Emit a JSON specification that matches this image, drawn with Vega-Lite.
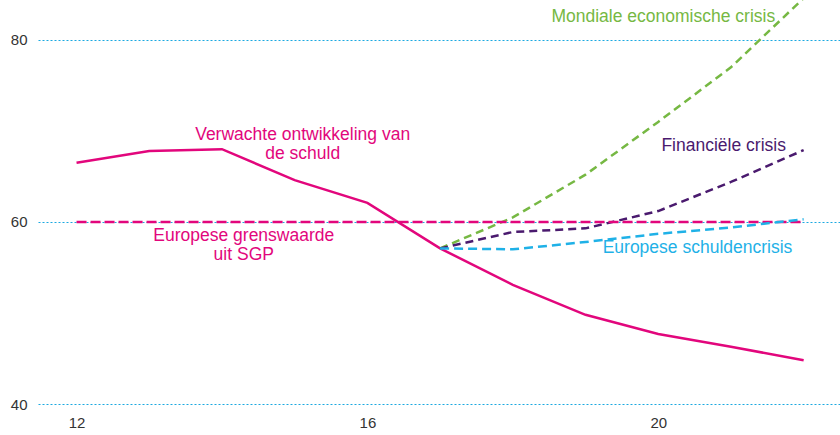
{
  "$schema": "https://vega.github.io/schema/vega-lite/v6.json",
  "autosize": "none",
  "width": 802,
  "height": 404,
  "padding": {"left": 38, "top": 0, "right": 0, "bottom": 31},
  "background": "white",
  "config": {"view": {"stroke": null}, "font": "Liberation Sans"},
  "datasets": {
    "lines": [
      {"series": "Verwacht", "year": 12, "value": 66.5},
      {"series": "Verwacht", "year": 13, "value": 67.8},
      {"series": "Verwacht", "year": 14, "value": 68.0},
      {"series": "Verwacht", "year": 15, "value": 64.6},
      {"series": "Verwacht", "year": 16, "value": 62.1},
      {"series": "Verwacht", "year": 17, "value": 57.1},
      {"series": "Verwacht", "year": 18, "value": 53.1},
      {"series": "Verwacht", "year": 19, "value": 49.8},
      {"series": "Verwacht", "year": 20, "value": 47.7},
      {"series": "Verwacht", "year": 21, "value": 46.3},
      {"series": "Verwacht", "year": 22, "value": 44.8},
      {"series": "Mondiaal", "year": 17, "value": 57.1},
      {"series": "Mondiaal", "year": 18, "value": 60.5},
      {"series": "Mondiaal", "year": 19, "value": 65.2},
      {"series": "Mondiaal", "year": 20, "value": 71.0},
      {"series": "Mondiaal", "year": 21, "value": 77.0},
      {"series": "Mondiaal", "year": 22, "value": 84.6},
      {"series": "Financieel", "year": 17, "value": 57.1},
      {"series": "Financieel", "year": 18, "value": 58.9},
      {"series": "Financieel", "year": 19, "value": 59.3},
      {"series": "Financieel", "year": 20, "value": 61.2},
      {"series": "Financieel", "year": 21, "value": 64.4},
      {"series": "Financieel", "year": 22, "value": 67.9},
      {"series": "Schuldencrisis", "year": 17, "value": 57.1},
      {"series": "Schuldencrisis", "year": 18, "value": 57.0},
      {"series": "Schuldencrisis", "year": 19, "value": 57.8},
      {"series": "Schuldencrisis", "year": 20, "value": 58.7},
      {"series": "Schuldencrisis", "year": 21, "value": 59.4},
      {"series": "Schuldencrisis", "year": 22, "value": 60.3},
      {"series": "SGP", "year": 12, "value": 60},
      {"series": "SGP", "year": 22, "value": 60}
    ],
    "labels": [
      {"series": "Verwacht", "text": "Verwachte ontwikkeling van", "year": 15.11, "value": 69.6},
      {"series": "Verwacht", "text": "de schuld", "year": 15.11, "value": 67.5},
      {"series": "SGP", "text": "Europese grenswaarde", "year": 14.3, "value": 58.45},
      {"series": "SGP", "text": "uit SGP", "year": 14.3, "value": 56.35},
      {"series": "Mondiaal", "text": "Mondiale economische crisis", "year": 20.07, "value": 82.5},
      {"series": "Financieel", "text": "Financiële crisis", "year": 20.9, "value": 68.4},
      {"series": "Schuldencrisis", "text": "Europese schuldencrisis", "year": 20.54, "value": 57.1}
    ]
  },
  "encoding": {
    "x": {
      "field": "year", "type": "quantitative",
      "scale": {"domain": [11.47, 22.5], "nice": false, "zero": false},
      "axis": {"values": [12, 16, 20], "title": null, "domain": false, "ticks": false, "grid": false,
               "labelFontSize": 15, "labelColor": "#333333", "labelPadding": 11, "labelFont": "Liberation Sans"}
    },
    "y": {
      "field": "value", "type": "quantitative",
      "scale": {"domain": [40, 84.3956], "nice": false, "zero": false},
      "axis": {"values": [40, 60, 80], "title": null, "domain": false, "ticks": false,
               "grid": true, "gridColor": "#1ba9e1", "gridDash": [2, 2], "gridWidth": 1.2,
               "labelFontSize": 15, "labelColor": "#333333", "labelPadding": 11, "labelFont": "Liberation Sans"}
    },
    "color": {
      "field": "series", "type": "nominal", "legend": null,
      "scale": {
        "domain": ["Verwacht", "SGP", "Mondiaal", "Financieel", "Schuldencrisis"],
        "range": ["#e2067c", "#e2067c", "#76b843", "#4a1a6e", "#1fb1e7"]
      }
    }
  },
  "layer": [
    {
      "data": {"name": "lines"},
      "transform": [{"filter": "datum.series === 'Verwacht'"}],
      "mark": {"type": "line", "strokeWidth": 2.5, "clip": true}
    },
    {
      "data": {"name": "lines"},
      "transform": [{"filter": "datum.series === 'Mondiaal'"}],
      "mark": {"type": "line", "strokeWidth": 2.5, "strokeDash": [8, 5], "clip": true}
    },
    {
      "data": {"name": "lines"},
      "transform": [{"filter": "datum.series === 'Financieel'"}],
      "mark": {"type": "line", "strokeWidth": 2.5, "strokeDash": [8, 5], "clip": true}
    },
    {
      "data": {"name": "lines"},
      "transform": [{"filter": "datum.series === 'SGP'"}],
      "mark": {"type": "line", "strokeWidth": 2.5, "strokeDash": [10, 4], "clip": true}
    },
    {
      "data": {"name": "lines"},
      "transform": [{"filter": "datum.series === 'Schuldencrisis'"}],
      "mark": {"type": "line", "strokeWidth": 2.5, "strokeDash": [9, 5], "clip": true}
    },
    {
      "data": {"name": "labels"},
      "mark": {"type": "text", "fontSize": 17.5, "align": "center", "baseline": "middle", "font": "Liberation Sans"},
      "encoding": {"text": {"field": "text"}}
    }
  ]
}
